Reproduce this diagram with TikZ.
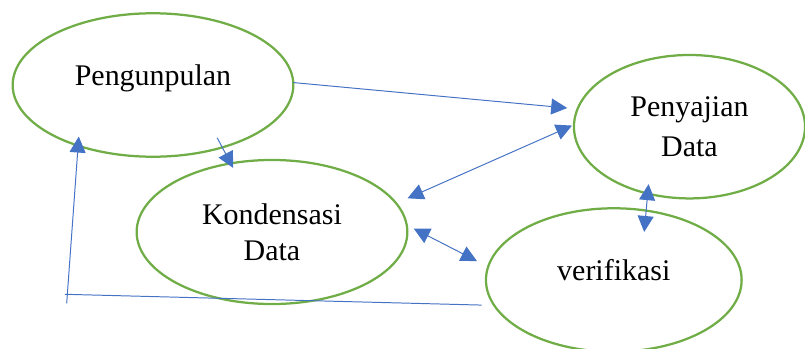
\documentclass[tikz,border=0pt]{standalone}
\usepackage{fontspec}
\setmainfont{Liberation Serif}
\usetikzlibrary{shapes.geometric,arrows.meta}
\definecolor{leaf}{HTML}{70AD47}
\definecolor{sky}{HTML}{4472C4}
\begin{document}
\begin{tikzpicture}[x=0.025cm,y=-0.025cm,>={Triangle[length=0.4cm,width=0.4cm]},
	stage/.style={ellipse,draw=leaf,line width=1.6pt,inner sep=0pt,outer sep=0pt,align=center,font=\fontsize{21.3pt}{25.6pt}\selectfont},
	flow/.style={draw=sky,line width=0.7pt}]
\useasboundingbox (0,0) rectangle (805,349);

\node[stage,minimum width=7.015cm,minimum height=3.585cm,text height=8pt,text depth=7pt] (peng) at (153,85) {Pengunpulan};
\node[stage,minimum width=6.765cm,minimum height=3.6cm] (kond) at (272,232) {Kondensasi\\Data};
\node[stage,minimum width=5.775cm,minimum height=3.585cm] (peny) at (689.5,126.7) {Penyajian\\[3.4pt]Data};
\node[stage,minimum width=6.39cm,minimum height=3.585cm,text height=8pt,text depth=7pt] (veri) at (613.8,280) {verifikasi};

\coordinate (fbLeft) at (65,294.3);
\coordinate (fbBottom) at (66.7,303.3);

\draw[flow,->,shorten >=0.26cm] (peng.1.2) -- (peny.171.4);
\draw[flow,->,shorten <=-0.2725cm,shorten >=-0.1285cm] (peng.-42.2) -- (kond.121.1);
\draw[flow,<->,shorten <=0.311cm,shorten >=0.055cm] (kond.13.2) -- (peny.179.6);
\draw[flow,<->,shorten <=0.198cm,shorten >=0.315cm] (kond.3.7) -- (veri.174.1);
\draw[flow,<->,shorten <=-0.236cm,shorten >=-0.536cm] (peny.238.2) -- (veri.65.6);
\draw[flow,shorten <=0.3175cm] (veri.192.9) -- (fbLeft);
\draw[flow,->,shorten >=-0.228cm] (fbBottom) -- (peng.219.1);
\end{tikzpicture}
\end{document}
